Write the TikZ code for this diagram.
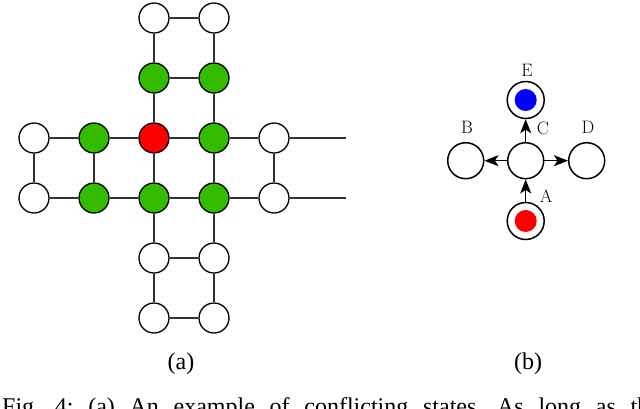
\documentclass[tikz,border=0pt]{standalone}
\usepackage{fontspec}
\newfontfamily\capfont{Liberation Serif}
\usetikzlibrary{arrows.meta}
\definecolor{ngreen}{RGB}{51,187,0}
\definecolor{edgegray}{RGB}{50,50,50}
\frenchspacing
\tikzset{
  vtx/.style={circle, draw=black, line width=1.3pt, minimum size=30pt, inner sep=0pt, fill=white},
  gvtx/.style={vtx, fill=ngreen},
  rvtx/.style={vtx, fill=red},
  edge/.style={draw=edgegray, line width=1.4pt},
  bvtx/.style={circle, draw=black, line width=1.5pt, minimum size=36pt, inner sep=0pt, fill=white},
  arr/.style={line width=1.5pt, -{Stealth[length=14pt,width=11pt,inset=3.5pt]}},
  lbl/.style={font=\fontsize{18}{21}\selectfont, inner sep=0pt},
  captext/.style={font=\capfont\fontsize{24}{28}\selectfont, inner sep=0pt}
}
\begin{document}
\begin{tikzpicture}[x=1pt,y=-1pt]
\useasboundingbox (0,0) rectangle (640,408);
\clip (0,0) rectangle (640,408);
% left graph
\coordinate (e2) at (346,138);
\coordinate (e3) at (346,198);
\node[vtx]  (a20) at (154,18) {};
\node[vtx]  (a30) at (214,18) {};
\node[gvtx] (a21) at (154,78) {};
\node[gvtx] (a31) at (214,78) {};
\node[vtx]  (a02) at (34,138) {};
\node[gvtx] (a12) at (94,138) {};
\node[rvtx] (a22) at (154,138) {};
\node[gvtx] (a32) at (214,138) {};
\node[vtx]  (a42) at (274,138) {};
\node[vtx]  (a03) at (34,198) {};
\node[gvtx] (a13) at (94,198) {};
\node[gvtx] (a23) at (154,198) {};
\node[gvtx] (a33) at (214,198) {};
\node[vtx]  (a43) at (274,198) {};
\node[vtx]  (a24) at (154,258) {};
\node[vtx]  (a34) at (214,258) {};
\node[vtx]  (a25) at (154,318) {};
\node[vtx]  (a35) at (214,318) {};
\path[edge]
  (a20) -- (a30) (a20) -- (a21) (a30) -- (a31)
  (a21) -- (a31) (a21) -- (a22) (a31) -- (a32)
  (a02) -- (a12) (a12) -- (a22) (a22) -- (a32) (a32) -- (a42) (a42) -- (e2)
  (a03) -- (a13) (a13) -- (a23) (a23) -- (a33) (a33) -- (a43) (a43) -- (e3)
  (a02) -- (a03) (a12) -- (a13) (a22) -- (a23) (a32) -- (a33) (a42) -- (a43)
  (a23) -- (a24) (a33) -- (a34)
  (a24) -- (a34)
  (a24) -- (a25) (a34) -- (a35)
  (a25) -- (a35);
% right diagram
\node[bvtx] (C) at (525.7,160.7) {};
\node[bvtx] (B) at (465.7,160.7) {};
\node[bvtx] (D) at (586.7,160.7) {};
\node[bvtx, minimum size=37pt] (E) at (525.7,100) {};
\node[bvtx, minimum size=37pt] (A) at (525.7,221) {};
\node[circle, fill=blue, minimum size=22pt, inner sep=0pt] (Ei) at (E) {};
\node[circle, fill=red, minimum size=22pt, inner sep=0pt] (Ai) at (A) {};
\draw[arr] (C) -- (B);
\draw[arr] (C) -- (D);
\draw[arr] (C) -- (E);
\draw[arr] (A) -- (C);
\node[lbl] (lE) at (527,70) {E};
\node[lbl] (lB) at (467,127) {B};
\node[lbl] (lC) at (543,128) {C};
\node[lbl] (lD) at (588,127) {D};
\node[lbl] (lA) at (546,196) {A};
% captions
\node[captext, anchor=base] (ca) at (181,369) {(a)};
\node[captext, anchor=base] (cb) at (528,369) {(b)};
\node[captext, anchor=base west] (cf) at (2,414) {\makebox[647pt][s]{Fig. 4: (a) An example of conflicting states. As long as th}};
\end{tikzpicture}
\end{document}
